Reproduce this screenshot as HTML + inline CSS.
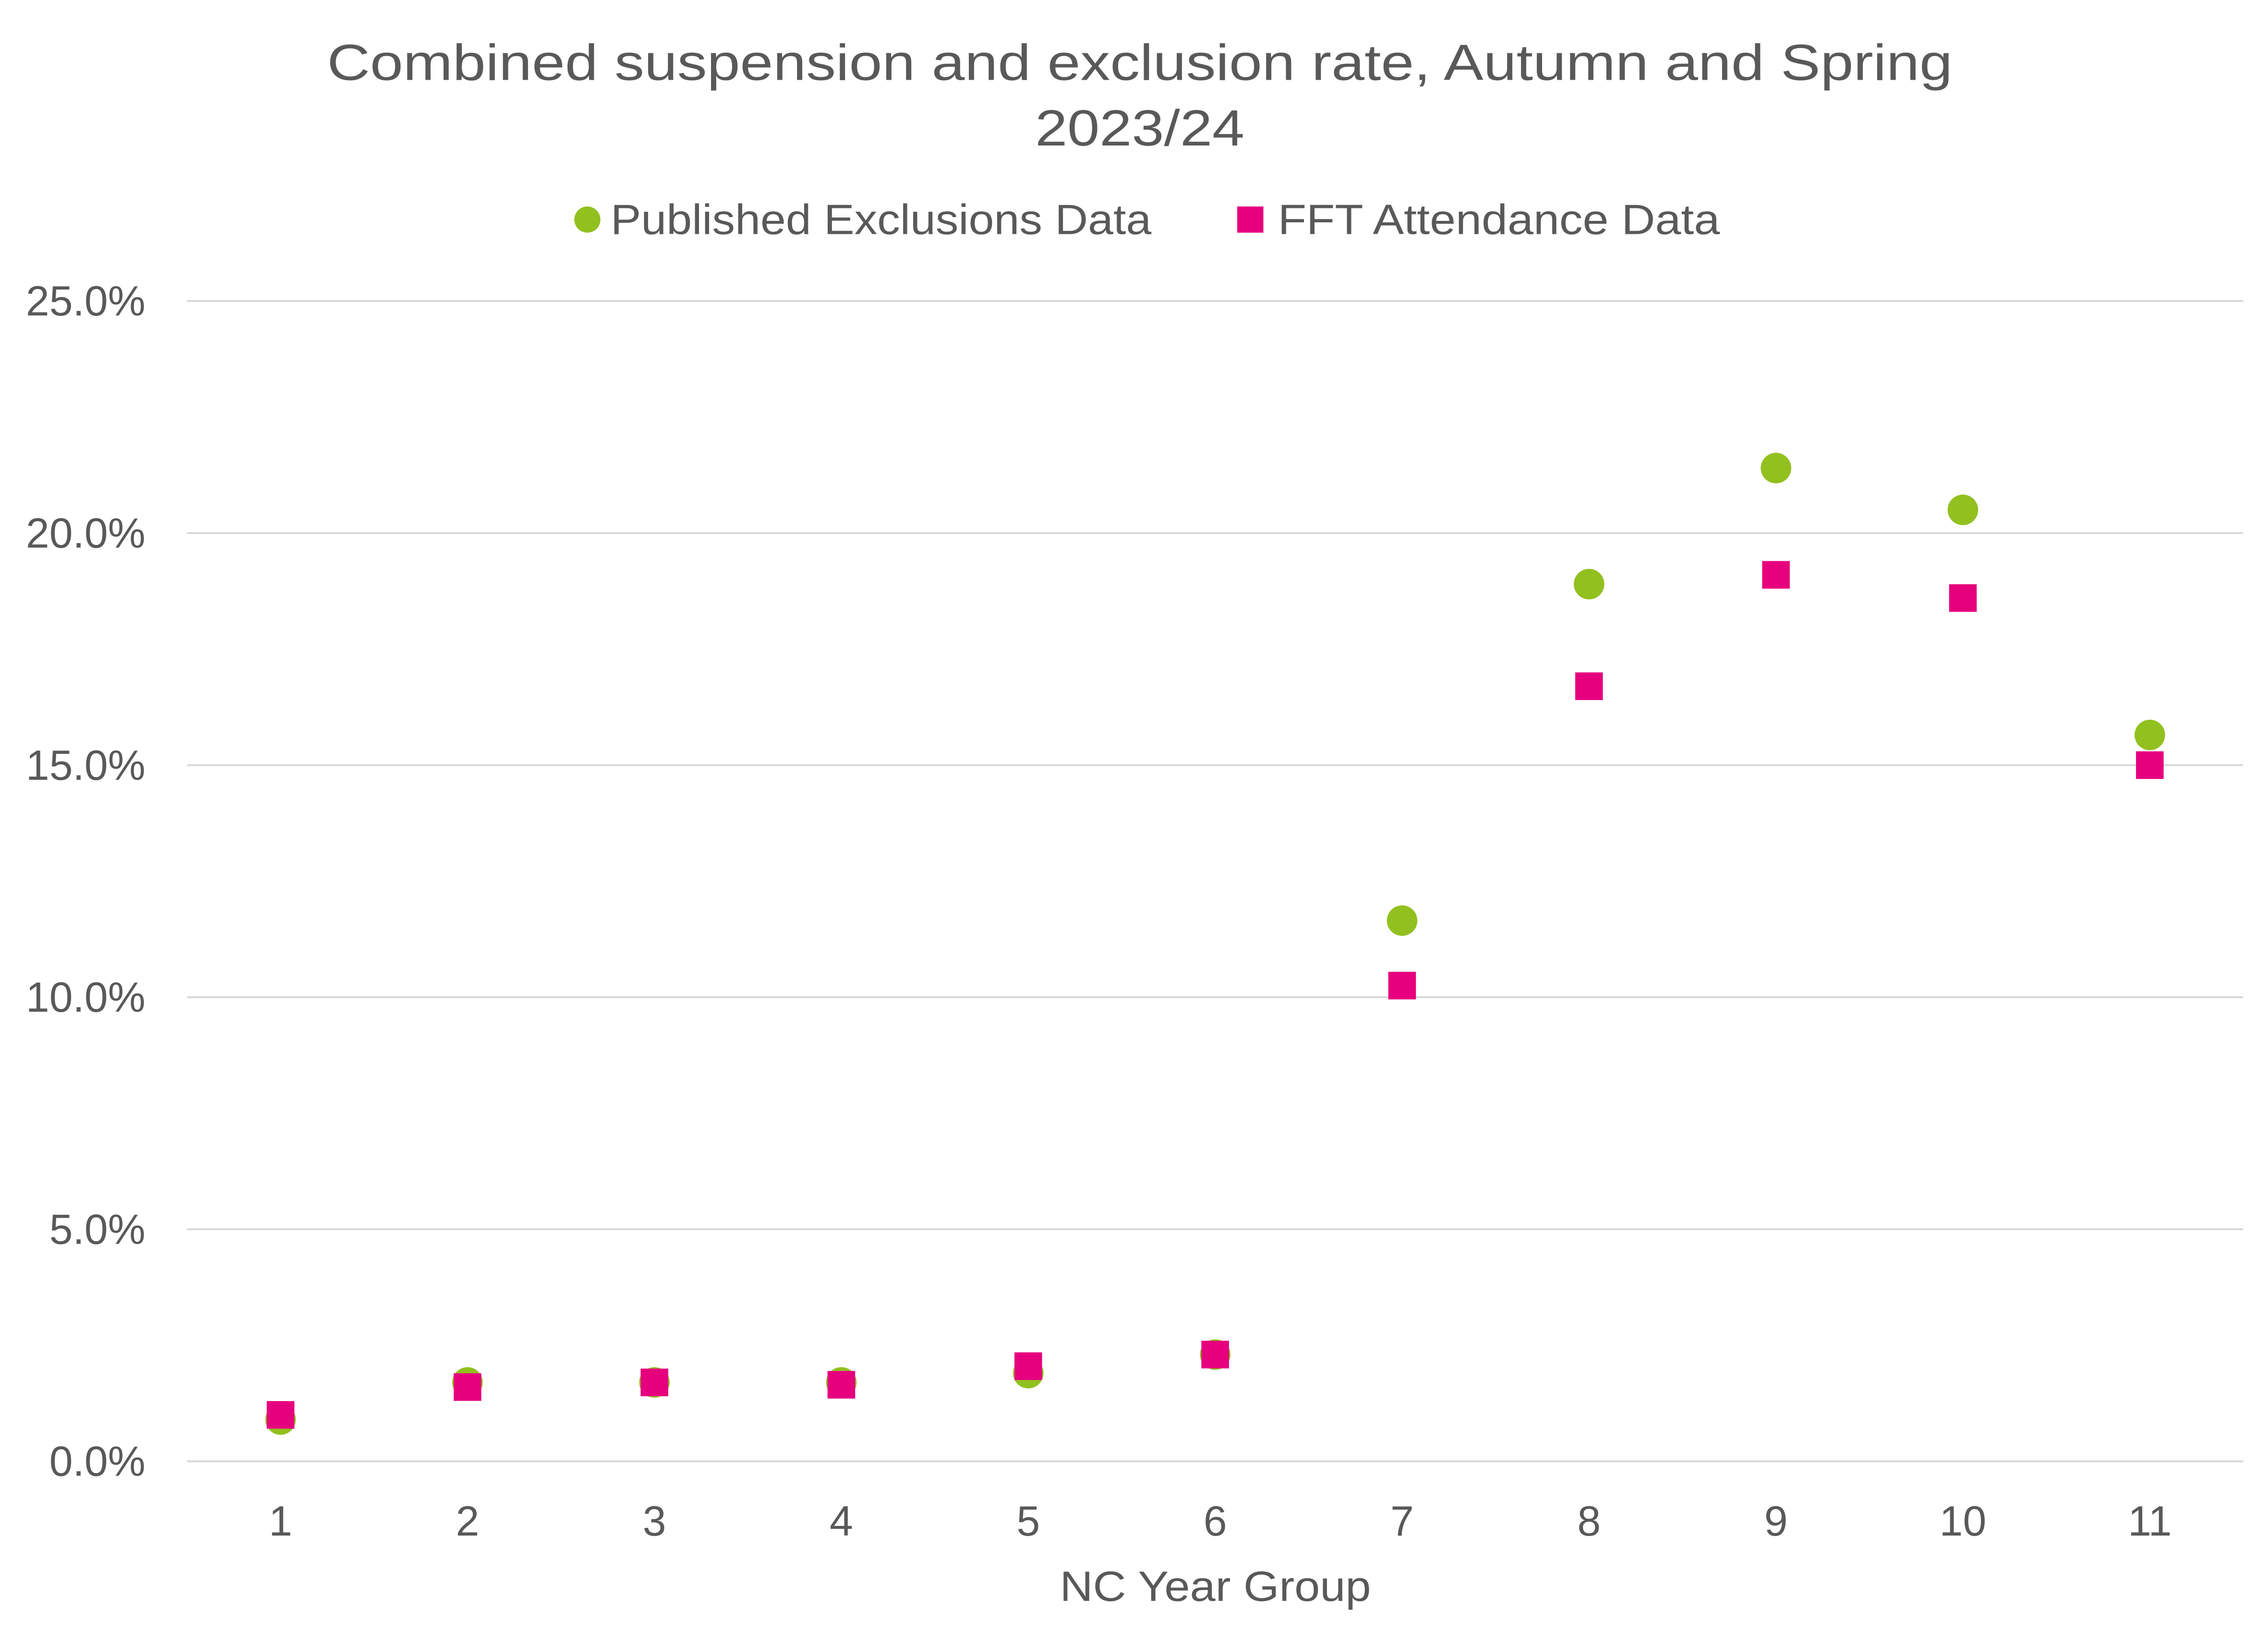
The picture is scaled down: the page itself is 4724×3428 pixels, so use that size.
<!DOCTYPE html>
<html>
<head>
<meta charset="utf-8">
<style>
  html, body { margin:0; padding:0; background:#fff; }
  body { width:4724px; height:3428px; overflow:hidden; }
  svg { display:block; }
  text { font-family: "Liberation Sans", "DejaVu Sans", sans-serif; fill:#595959; }
</style>
</head>
<body>
<svg id="chart" width="4724" height="3428" viewBox="0 0 1560 1132" xmlns="http://www.w3.org/2000/svg">
  <text x="784" y="55" font-size="35" text-anchor="middle" textLength="1118" lengthAdjust="spacingAndGlyphs">Combined suspension and exclusion rate, Autumn and Spring</text>
  <text x="784" y="100" font-size="35" text-anchor="middle" textLength="144" lengthAdjust="spacingAndGlyphs">2023/24</text>
  <g>
    <g>
      <circle cx="404" cy="151" r="9" fill="#92c01f"></circle>
      <text x="420" y="161" font-size="29" textLength="372" lengthAdjust="spacingAndGlyphs">Published Exclusions Data</text>
    </g>
    <g>
      <rect x="851" y="142" width="18" height="18" fill="#e6007e"></rect>
      <text x="879" y="161" font-size="29" textLength="304" lengthAdjust="spacingAndGlyphs">FFT Attendance Data</text>
    </g>
  </g>
  <g id="grid"></g>
  <g id="yticks"></g>
  <g id="xticks"></g>
  <text x="836" y="1101" font-size="29" text-anchor="middle" textLength="214" lengthAdjust="spacingAndGlyphs">NC Year Group</text>
  <g id="series-published"></g>
  <g id="series-fft"></g>
</svg>
<script>
const categories = ["1","2","3","4","5","6","7","8","9","10","11"];
const publishedValues = [0.9, 1.7, 1.7, 1.7, 1.9, 2.3, 11.65, 18.9, 21.4, 20.5, 15.65];
const fftValues = [1.0, 1.6, 1.7, 1.65, 2.05, 2.3, 10.25, 16.7, 19.1, 18.6, 15.0];
const yTicks = [0, 5, 10, 15, 20, 25];
const yTickLabels = ["0.0%","5.0%","10.0%","15.0%","20.0%","25.0%"];

const NS = "http://www.w3.org/2000/svg";
const plotLeft = 128.7, plotRight = 1543, yZero = 1005, yTop = 207, yMax = 25;
const band = (plotRight - plotLeft) / categories.length;
function xPos(i) { return plotLeft + band * (i + 0.5); }
function yPos(v) { return yZero - (v / yMax) * (yZero - yTop); }
function mk(tag, attrs, parent) {
  const el = document.createElementNS(NS, tag);
  for (const k in attrs) el.setAttribute(k, attrs[k]);
  parent.appendChild(el);
  return el;
}
const grid = document.getElementById("grid");
const yt = document.getElementById("yticks");
yTicks.forEach((t, i) => {
  const l = mk("line", {x1: plotLeft, x2: plotRight, y1: yPos(t), y2: yPos(t), stroke: "#d9d9d9", "stroke-width": 1.3}, grid);
  
  
  const tx = mk("text", {x: 100, y: yPos(t) + 10, "font-size": 29, "text-anchor": "end"}, yt);
  tx.textContent = yTickLabels[i];
  
  
});
const xt = document.getElementById("xticks");
categories.forEach((c, i) => {
  const tx = mk("text", {x: xPos(i), y: 1056, "font-size": 29, "text-anchor": "middle"}, xt);
  tx.textContent = c;
  
  
});
const gp = document.getElementById("series-published");
publishedValues.forEach((v, i) => {
  const c = mk("circle", {cx: xPos(i), cy: yPos(v), r: 10.5, fill: "#92c01f"}, gp);
  
  
});
const gf = document.getElementById("series-fft");
fftValues.forEach((v, i) => {
  const r = mk("rect", {x: xPos(i) - 9.5, y: yPos(v) - 9.5, width: 19, height: 19, fill: "#e6007e"}, gf);
  
  
});
</script>
</body>
</html>
